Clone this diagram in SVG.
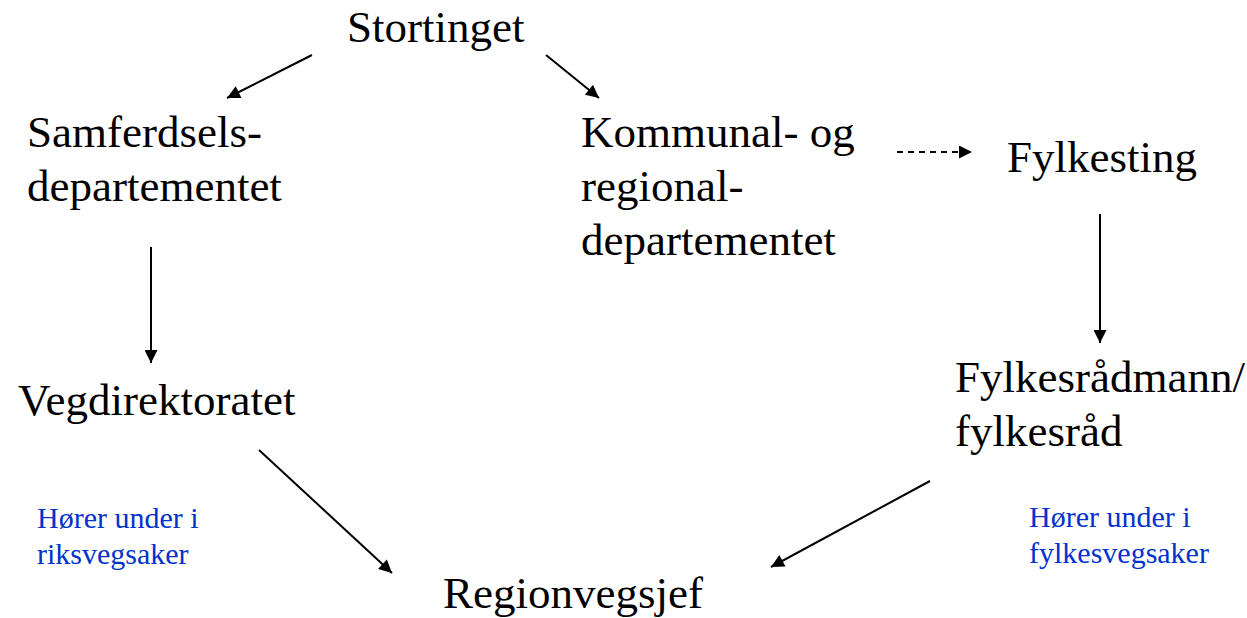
<svg xmlns="http://www.w3.org/2000/svg" width="1247" height="618" viewBox="0 0 1247 618">
<style>
.t{font-family:"Liberation Serif","Times New Roman",serif;font-size:45px;fill:#000}
.b{font-family:"Liberation Serif","Times New Roman",serif;font-size:30px;fill:#0033CC}
.c{stroke:#000;stroke-width:2;fill:none;marker-end:url(#ah)}
.d{stroke-dasharray:6,5}
</style>
<defs>
<marker id="ah" viewBox="0 0 10 10" refX="10" refY="5" markerWidth="7" markerHeight="6.5" markerUnits="strokeWidth" orient="auto">
<path d="M0,0 L10,5 L0,10 z" fill="#000"/>
</marker>
</defs>
<rect width="1247" height="618" fill="#fff"/>
<g id="connectors">
<line class="c" x1="312" y1="55" x2="227" y2="98"/>
<line class="c" x1="546" y1="55" x2="599" y2="98"/>
<line class="c d" x1="897" y1="152" x2="972" y2="152"/>
<line class="c" x1="151" y1="247" x2="151" y2="363"/>
<line class="c" x1="1100" y1="214" x2="1100" y2="343"/>
<line class="c" x1="259" y1="450" x2="392" y2="573"/>
<line class="c" x1="930" y1="481" x2="771" y2="567"/>
</g>
<g id="stortinget"><text class="t" x="347" y="42">Stortinget</text></g>
<g id="samferdsel"><text class="t" x="27" y="147">Samferdsels-</text><text class="t" x="27" y="201">departementet</text></g>
<g id="kommunal"><text class="t" x="581" y="147">Kommunal- og</text><text class="t" x="581" y="201">regional-</text><text class="t" x="581" y="255">departementet</text></g>
<g id="fylkesting"><text class="t" x="1007" y="172">Fylkesting</text></g>
<g id="vegdirektoratet"><text class="t" x="18" y="415">Vegdirektoratet</text></g>
<g id="fylkesradmann"><text class="t" x="955" y="392">Fylkesrådmann/</text><text class="t" x="955" y="446">fylkesråd</text></g>
<g id="regionvegsjef"><text class="t" x="443" y="608">Regionvegsjef</text></g>
<g id="note-riks"><text class="b" x="37" y="528">Hører under i</text><text class="b" x="37" y="564">riksvegsaker</text></g>
<g id="note-fylke"><text class="b" x="1029" y="527">Hører under i</text><text class="b" x="1029" y="563">fylkesvegsaker</text></g>
</svg>
